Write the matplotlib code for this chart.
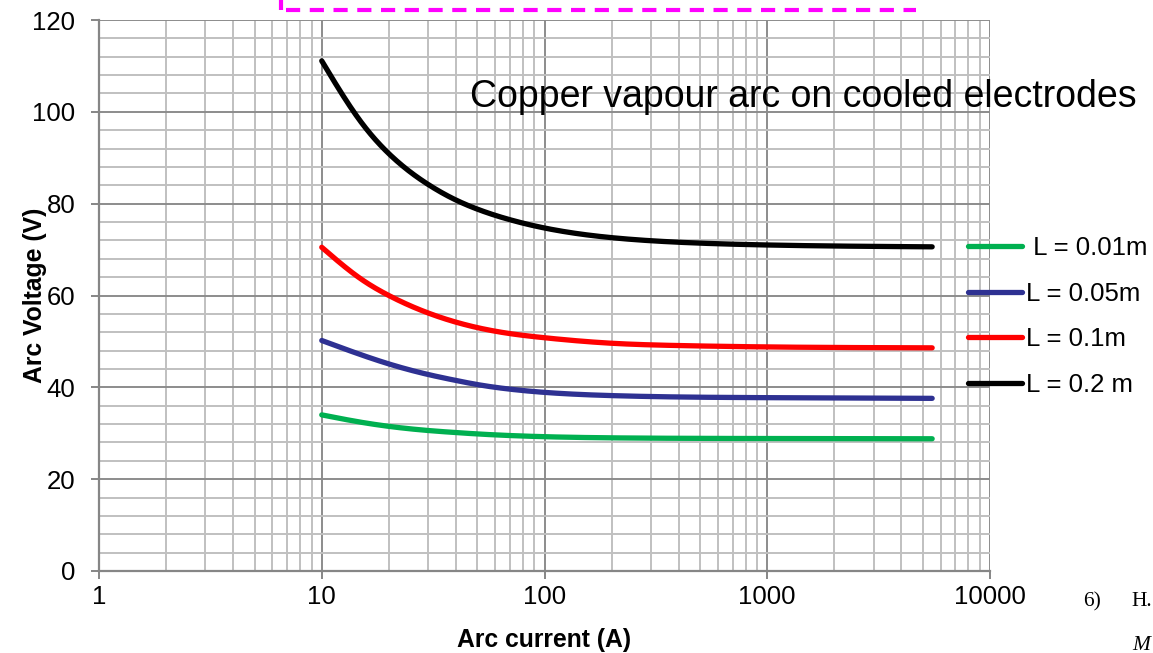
import numpy as np
import matplotlib
matplotlib.use("Agg")
import matplotlib.pyplot as plt
from matplotlib.ticker import LogLocator, MultipleLocator, FixedLocator, NullFormatter
from matplotlib.lines import Line2D

# Arc current (A) and arc voltage (V) for four arc lengths
current = [10, 15, 20, 30, 40, 50, 70, 100, 200, 400, 1000, 5500]
v_001 = [34.0, 32.4, 31.5, 30.6, 30.15, 29.85, 29.5, 29.25, 29.0, 28.9, 28.85, 28.8]
v_005 = [50.2, 47.1, 45.1, 42.8, 41.5, 40.6, 39.6, 38.9, 38.2, 37.9, 37.75, 37.6]
v_01 = [70.5, 63.6, 60.0, 56.2, 54.2, 53.0, 51.7, 50.8, 49.6, 49.1, 48.8, 48.6]
v_02 = [111.1, 97.8, 90.9, 84.2, 80.8, 78.8, 76.5, 74.7, 72.6, 71.6, 71.0, 70.6]

labels = [" L = 0.01m", "L = 0.05m", "L = 0.1m", "L = 0.2 m"]
colors = ["#00B050", "#2E3192", "#FF0000", "#000000"]
series = [v_001, v_005, v_01, v_02]

x_ticks = [1, 10, 100, 1000, 10000]
x_ticklabels = ["1", "10", "100", "1000", "10000"]
y_ticks = [0, 20, 40, 60, 80, 100, 120]


def smooth(x, y, n=40):
    """Natural cubic spline through the points, in log10-x space."""
    lx = np.log10(np.asarray(x, float))
    yy = np.asarray(y, float)
    k = len(lx)
    h = np.diff(lx)
    A = np.zeros((k, k))
    b = np.zeros(k)
    A[0, 0] = A[-1, -1] = 1.0
    for i in range(1, k - 1):
        A[i, i - 1] = h[i - 1]
        A[i, i] = 2 * (h[i - 1] + h[i])
        A[i, i + 1] = h[i]
        b[i] = 6 * ((yy[i + 1] - yy[i]) / h[i] - (yy[i] - yy[i - 1]) / h[i - 1])
    M = np.linalg.solve(A, b)
    xs, ys = [], []
    for i in range(k - 1):
        t = np.linspace(lx[i], lx[i + 1], n, endpoint=False)
        a = lx[i + 1] - t
        c = t - lx[i]
        s = (M[i] * a ** 3 / (6 * h[i]) + M[i + 1] * c ** 3 / (6 * h[i])
             + (yy[i] / h[i] - M[i] * h[i] / 6) * a
             + (yy[i + 1] / h[i] - M[i + 1] * h[i] / 6) * c)
        xs.append(t)
        ys.append(s)
    xs.append([lx[-1]])
    ys.append([yy[-1]])
    return 10 ** np.concatenate(xs), np.concatenate(ys)


plt.rcParams["font.family"] = ["Liberation Sans", "DejaVu Sans"]

fig = plt.figure(figsize=(11.53, 6.53), dpi=100)
ax = fig.add_axes([99 / 1153, 1 - 571 / 653, (990 - 99) / 1153, (571 - 20) / 653])

ax.set_xscale("log")
ax.set_xlim(1, 10000)
ax.set_ylim(0, 120)

ax.xaxis.set_major_locator(FixedLocator(x_ticks))
ax.set_xticklabels(x_ticklabels)
ax.xaxis.set_minor_locator(LogLocator(base=10, subs=np.arange(2, 10)))
ax.xaxis.set_minor_formatter(NullFormatter())
ax.yaxis.set_major_locator(FixedLocator(y_ticks))
ax.yaxis.set_minor_locator(MultipleLocator(4))

ax.grid(which="major", color="#8c8c8c", linewidth=1.4)
ax.grid(which="minor", color="#c0c0c0", linewidth=1.4)
ax.set_axisbelow(True)

for side in ["top", "right"]:
    ax.spines[side].set_visible(False)
for side in ["left", "bottom"]:
    ax.spines[side].set_color("#868686")
    ax.spines[side].set_linewidth(1.6)

ax.tick_params(which="major", length=6, width=1.4, color="#868686",
               labelsize=18.5, labelcolor="#000000")
ax.tick_params(axis="y", which="major", pad=11)
ax.tick_params(axis="x", which="major", pad=4)
ax.tick_params(which="minor", length=0)

for y, c in zip(series, colors):
    sx, sy = smooth(current, y)
    ax.plot(sx, sy, color=c, linewidth=3.8, solid_capstyle="round", zorder=3)

ax.set_xlabel("Arc current (A)", fontsize=17.8, fontweight="bold", labelpad=14)
ax.set_ylabel("Arc Voltage (V)", fontsize=17.8, fontweight="bold")
ax.yaxis.set_label_coords(-0.058, 0.5)

fig.text(470 / 1153, 1 - 97 / 653, "Copper vapour arc on cooled electrodes",
         fontsize=27, ha="left", va="center")

handles = [Line2D([], [], color=c, linewidth=3.8, solid_capstyle="round") for c in colors]
fig.legend(handles, labels, loc="upper left", bbox_to_anchor=(968 / 1153, 1 - 236 / 653),
           frameon=False, fontsize=18.5, handlelength=2.1, handletextpad=0.15,
           labelspacing=0.84, borderaxespad=0, borderpad=0)

# dashed magenta frame corner at the top
dash = (0, (3.4, 2.3))
fig.add_artist(Line2D([281 / 1153, 281 / 1153], [1.0, 1 - 10 / 653], color="#FF00FF",
                      linewidth=3.0, linestyle=dash))
fig.add_artist(Line2D([286 / 1153, 916 / 1153], [1 - 9.5 / 653, 1 - 9.5 / 653], color="#FF00FF",
                      linewidth=3.0, linestyle=dash))

fig.text(1083 / 1153, 1 - 602 / 653, "6)", fontsize=15.5, family="Liberation Serif",
         ha="left", va="center")
fig.text(1131 / 1153, 1 - 602 / 653, "H.", fontsize=15.5, family="Liberation Serif",
         ha="left", va="center")
fig.text(1132 / 1153, 3 / 653, "M", fontsize=15.5, family="Liberation Serif",
         style="italic", ha="left", va="baseline")

fig.savefig("out.png", dpi=100)
